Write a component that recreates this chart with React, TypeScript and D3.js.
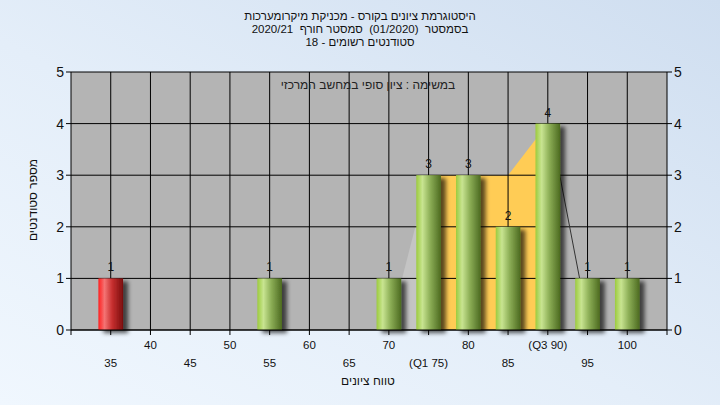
import React from 'react';
import * as d3 from 'd3';

const categories = [35, 40, 45, 50, 55, 60, 65, 70, 75, 80, 85, 90, 95, 100];
const tickLabels = ['35', '40', '45', '50', '55', '60', '65', '70', '(Q1 75)', '80', '85', '(Q3 90)', '95', '100'];
const barGrades = [35, 55, 70, 75, 80, 85, 90, 95, 100];
const barCounts = [1, 1, 1, 3, 3, 2, 4, 1, 1];
const failingGrades = [35];
const lowAreaGrades = [70, 75];
const lowAreaValues = [0, 3];
const iqrGrades = [75, 80, 85, 90];
const iqrValues = [3, 3, 3, 4];
const whiskerGrades = [90, 95];
const whiskerValues = [4, 0];
const yTicks = [0, 1, 2, 3, 4, 5];
const titleLines = [
  'היסטוגרמת ציונים בקורס - מכניקת מיקרומערכות',
  'בסמסטר  (01/2020)  סמסטר חורף  2020/21',
  'סטודנטים רשומים - 18',
];
const annotation = 'במשימה : ציון סופי במחשב המרכזי';
const yTitle = 'מספר סטודנטים';
const xTitle = 'טווח ציונים';

const W = 720, H = 405;
const L = 71, R = 667, T = 72, B = 330;
const FONT = '"Liberation Sans", Arial, sans-serif';

export default function App() {
  const x = d3.scaleLinear().domain([30, 105]).range([L, R]);
  const y = d3.scaleLinear().domain([0, 5]).range([B, T]);
  const slot = x(35) - x(30);
  const bw = slot * 0.62;

  const area = d3.area<[number, number]>().x(d => x(d[0])).y0(y(0)).y1(d => y(d[1]));
  const lowPts = lowAreaGrades.map((g, i) => [g, lowAreaValues[i]] as [number, number]);
  const iqrPts = iqrGrades.map((g, i) => [g, iqrValues[i]] as [number, number]);
  const line = d3.line<[number, number]>().x(d => x(d[0]) + 2).y(d => y(d[1]));
  const whiskerPts = whiskerGrades.map((g, i) => [g, whiskerValues[i]] as [number, number]);

  return (
    <svg width={W} height={H} style={{ position: 'absolute', left: 0, top: 0 }} fontFamily={FONT}>
      <defs>
        <linearGradient id="bg" x1="1" y1="0" x2="0" y2="1">
          <stop offset="0" stopColor="#cfdef0" />
          <stop offset="0.55" stopColor="#e4eef9" />
          <stop offset="1" stopColor="#f0f7fe" />
        </linearGradient>
        <linearGradient id="green" x1="0" y1="0" x2="1" y2="0">
          <stop offset="0" stopColor="#9ccb3e" />
          <stop offset="0.25" stopColor="#c8e491" />
          <stop offset="0.55" stopColor="#8eb058" />
          <stop offset="1" stopColor="#4c6a20" />
        </linearGradient>
        <linearGradient id="red" x1="0" y1="0" x2="1" y2="0">
          <stop offset="0" stopColor="#ff2020" />
          <stop offset="0.25" stopColor="#f47474" />
          <stop offset="0.55" stopColor="#c83030" />
          <stop offset="1" stopColor="#7a0e0e" />
        </linearGradient>
        <filter id="shadow" x="-30%" y="-20%" width="170%" height="140%">
          <feDropShadow dx="5" dy="3" stdDeviation="2" floodColor="#000" floodOpacity="0.65" />
        </filter>
      </defs>
      <rect x={0} y={0} width={W} height={H} fill="url(#bg)" />

      {titleLines.map((t, i) => (
        <text key={i} x={360} y={20 + i * 13} fontSize={11.5} textAnchor="middle" direction="rtl"
          style={{ whiteSpace: 'pre' }} fill="#111">{t}</text>
      ))}

      <rect x={L} y={T} width={R - L} height={B - T} fill="#b4b4b4" />
      <path d={area(lowPts) || ''} fill="#c4c4c4" />
      <path d={area(iqrPts) || ''} fill="#ffcc55" />

      {yTicks.map(t => (
        <line key={'gy' + t} x1={L} x2={R} y1={y(t)} y2={y(t)} stroke="#000" strokeWidth={1} />
      ))}
      {categories.map(c => (
        <line key={'gx' + c} x1={x(c)} x2={x(c)} y1={T} y2={B} stroke="#000" strokeWidth={1} />
      ))}

      <text x={368} y={89} fontSize={12} textAnchor="middle" direction="rtl" fill="#222">{annotation}</text>

      <path d={line(whiskerPts) || ''} fill="none" stroke="#333" strokeWidth={1} />

      {barGrades.map((g, i) => (
        <g key={'b' + g}>
          <rect x={x(g) - bw / 2} y={y(barCounts[i])} width={bw} height={y(0) - y(barCounts[i])}
            fill={failingGrades.includes(g) ? 'url(#red)' : 'url(#green)'} filter="url(#shadow)" />
          <text x={x(g)} y={y(barCounts[i]) - 7} fontSize={12} textAnchor="middle" fill="#111">{barCounts[i]}</text>
        </g>
      ))}

      <line x1={L} x2={L} y1={T} y2={B + 5} stroke="#000" />
      <line x1={R} x2={R} y1={T} y2={B + 5} stroke="#000" />
      <line x1={L} x2={R} y1={B} y2={B} stroke="#000" />
      {yTicks.map(t => (
        <g key={'yt' + t}>
          <line x1={L - 5} x2={L} y1={y(t)} y2={y(t)} stroke="#000" />
          <text x={L - 7} y={y(t) + 5} fontSize={14} textAnchor="end" fill="#111">{t}</text>
          <line x1={R} x2={R + 5} y1={y(t)} y2={y(t)} stroke="#000" />
          <text x={R + 7} y={y(t) + 5} fontSize={14} textAnchor="start" fill="#111">{t}</text>
        </g>
      ))}
      {categories.map((c, i) => (
        <g key={'xt' + c}>
          <line x1={x(c)} x2={x(c)} y1={B} y2={B + 5} stroke="#000" />
          <text x={x(c)} y={i % 2 === 0 ? 367 : 349} fontSize={11.5} textAnchor="middle" fill="#111">{tickLabels[i]}</text>
        </g>
      ))}

      <text transform={`translate(37,200) rotate(-90)`} fontSize={12} textAnchor="middle" direction="rtl" fill="#111">{yTitle}</text>
      <text x={368} y={385} fontSize={12} textAnchor="middle" direction="rtl" fill="#111">{xTitle}</text>
    </svg>
  );
}
